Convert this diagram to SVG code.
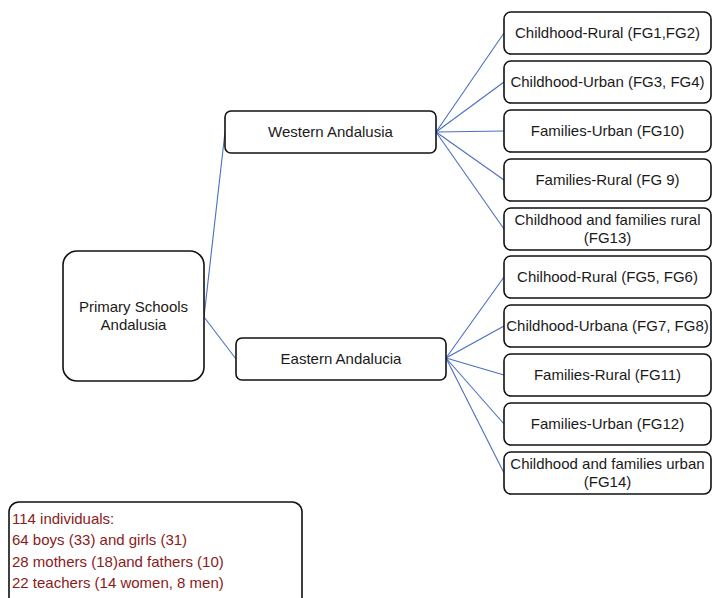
<svg xmlns="http://www.w3.org/2000/svg" width="712" height="598" viewBox="0 0 712 598">
<style>
.box{fill:#fff;stroke:#111;stroke-width:1.6}
.t{font-family:"Liberation Sans",Arial,sans-serif;font-size:15px;fill:#1a1a1a;text-anchor:middle}
.r{font-family:"Liberation Sans",Arial,sans-serif;font-size:15px;fill:#8b1a1a}
.c line{stroke:#4a6fbf;stroke-width:1.1}
</style>
<rect width="712" height="598" fill="#fff"/>
<g class="c" id="connectors">
<line x1="204" y1="317" x2="225" y2="132"/>
<line x1="204" y1="317" x2="236" y2="359"/>
<line x1="436" y1="132" x2="504" y2="33"/>
<line x1="436" y1="132" x2="504" y2="82"/>
<line x1="436" y1="132" x2="504" y2="131"/>
<line x1="436" y1="132" x2="504" y2="180"/>
<line x1="436" y1="132" x2="504" y2="229"/>
<line x1="446" y1="358" x2="504" y2="277"/>
<line x1="446" y1="358" x2="504" y2="326"/>
<line x1="446" y1="358" x2="504" y2="375"/>
<line x1="446" y1="358" x2="504" y2="424"/>
<line x1="446" y1="358" x2="504" y2="473"/>
</g>
<g id="primary"><rect class="box" x="63" y="251" width="141" height="130" rx="14"/><text class="t" x="133.5" y="312">Primary Schools</text><text class="t" x="133.5" y="330">Andalusia</text></g>
<g id="western"><rect class="box" x="225" y="111" width="211" height="42" rx="6"/><text class="t" x="330.5" y="137">Western Andalusia</text></g>
<g id="eastern"><rect class="box" x="236" y="338" width="210" height="42" rx="6"/><text class="t" x="341" y="364">Eastern Andalucia</text></g>
<g id="w1"><rect class="box" x="504" y="12" width="207" height="42" rx="7"/><text class="t" x="607.5" y="38">Childhood-Rural (FG1,FG2)</text></g>
<g id="w2"><rect class="box" x="504" y="61" width="207" height="42" rx="7"/><text class="t" x="607.5" y="87">Childhood-Urban (FG3, FG4)</text></g>
<g id="w3"><rect class="box" x="504" y="110" width="207" height="42" rx="7"/><text class="t" x="607.5" y="136">Families-Urban (FG10)</text></g>
<g id="w4"><rect class="box" x="504" y="159" width="207" height="42" rx="7"/><text class="t" x="607.5" y="185">Families-Rural (FG 9)</text></g>
<g id="w5"><rect class="box" x="504" y="208" width="207" height="42" rx="7"/><text class="t" x="607.5" y="225">Childhood and families rural</text><text class="t" x="607.5" y="243">(FG13)</text></g>
<g id="e1"><rect class="box" x="504" y="256" width="207" height="42" rx="7"/><text class="t" x="607.5" y="282">Chilhood-Rural (FG5, FG6)</text></g>
<g id="e2"><rect class="box" x="504" y="305" width="207" height="42" rx="7"/><text class="t" x="607.5" y="331">Childhood-Urbana (FG7, FG8)</text></g>
<g id="e3"><rect class="box" x="504" y="354" width="207" height="42" rx="7"/><text class="t" x="607.5" y="380">Families-Rural (FG11)</text></g>
<g id="e4"><rect class="box" x="504" y="403" width="207" height="42" rx="7"/><text class="t" x="607.5" y="429">Families-Urban (FG12)</text></g>
<g id="e5"><rect class="box" x="504" y="452" width="207" height="42" rx="7"/><text class="t" x="607.5" y="469">Childhood and families urban</text><text class="t" x="607.5" y="487">(FG14)</text></g>
<g id="legend"><rect class="box" x="9" y="502" width="293" height="120" rx="10"/>
<text class="r" x="12" y="524">114 individuals:</text>
<text class="r" x="12" y="545">64 boys (33) and girls (31)</text>
<text class="r" x="12" y="567">28 mothers (18)and fathers (10)</text>
<text class="r" x="12" y="588">22 teachers (14 women, 8 men)</text>
</g>
</svg>
